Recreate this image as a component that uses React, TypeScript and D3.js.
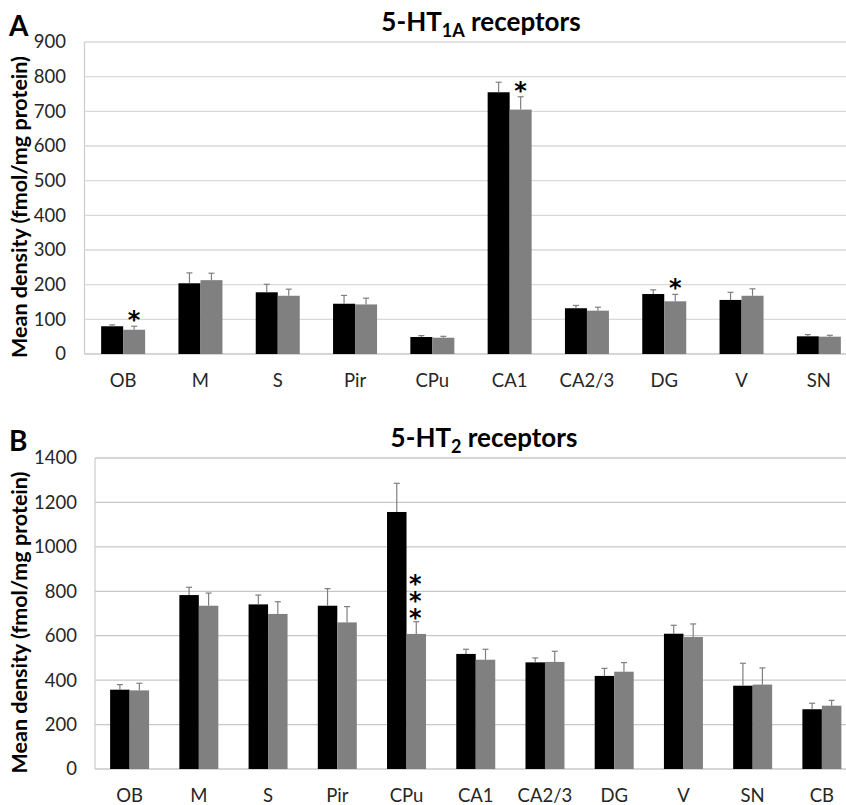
import React from "react";
import * as d3 from "d3";

const regionsA = ["OB", "M", "S", "Pir", "CPu", "CA1", "CA2/3", "DG", "V", "SN"];
const controlA = [80, 204, 178, 145, 49, 755, 132, 173, 156, 51];
const controlErrA = [4, 30, 23, 24, 4, 29, 8, 12, 22, 5];
const treatedA = [70, 213, 168, 143, 47, 705, 125, 152, 168, 50];
const treatedErrA = [10, 20, 19, 18, 4, 37, 10, 20, 20, 4];
const starsA = [1, 0, 0, 0, 0, 1, 0, 1, 0, 0];
const ticksA = [0, 100, 200, 300, 400, 500, 600, 700, 800, 900];

const regionsB = ["OB", "M", "S", "Pir", "CPu", "CA1", "CA2/3", "DG", "V", "SN", "CB"];
const controlB = [357, 783, 741, 735, 1157, 518, 480, 419, 609, 375, 269];
const controlErrB = [23, 35, 42, 77, 129, 21, 20, 34, 38, 101, 27];
const treatedB = [354, 735, 698, 660, 608, 492, 482, 438, 594, 380, 285];
const treatedErrB = [32, 57, 55, 71, 55, 47, 48, 41, 59, 75, 24];
const starsB = [0, 0, 0, 0, 3, 0, 0, 0, 0, 0, 0];
const ticksB = [0, 200, 400, 600, 800, 1000, 1200, 1400];

const FONT = "Lato, 'Open Sans', sans-serif";

type PanelProps = {
  letter: string;
  titleMain: string;
  titleSub: string;
  regions: string[];
  control: number[];
  controlErr: number[];
  treated: number[];
  treatedErr: number[];
  stars: number[];
  ticks: number[];
  max: number;
  top: number;
  bottom: number;
  left: number;
  right: number;
  barFrac: number;
  gridColor: string;
  letterY: number;
  titleY: number;
  titleX: number;
  labelY: number;
  tickX: number;
};

function Panel(p: PanelProps) {
  const y = d3.scaleLinear().domain([0, p.max]).range([p.bottom, p.top]);
  const x = d3.scaleBand().domain(p.regions).range([p.left, p.right]).paddingInner(0).paddingOuter(0);
  const bw = x.bandwidth() * p.barFrac / 2;
  const cap = 3;
  return (
    <g>
      {p.ticks.map((t) => (
        <g key={t}>
          <line x1={p.left} x2={p.right} y1={y(t)} y2={y(t)} stroke={t === 0 ? "#c8c8c8" : p.gridColor} strokeWidth={1.3} />
          <text x={p.tickX} y={y(t)} dy="0.35em" textAnchor="end" fontSize={18.5} fill="#262626" fontFamily={FONT}>{t}</text>
        </g>
      ))}
      <line x1={p.left} x2={p.left} y1={p.top} y2={p.bottom} stroke="#d0d0d0" strokeWidth={1.3} />
      {p.regions.map((r, i) => {
        const cx = (x(r) as number) + x.bandwidth() / 2;
        const yc = y(p.control[i]);
        const yt = y(p.treated[i]);
        const yce = y(p.control[i] + p.controlErr[i]);
        const yte = y(p.treated[i] + p.treatedErr[i]);
        const starTop = Math.min(yte, yt);
        const n = p.stars[i];
        return (
          <g key={r}>
            <rect x={cx - bw} y={yc} width={bw} height={p.bottom - yc} fill="#000" />
            <rect x={cx} y={yt} width={bw} height={p.bottom - yt} fill="#808080" />
            <line x1={cx - bw / 2} x2={cx - bw / 2} y1={yc} y2={yce} stroke="#7f7f7f" strokeWidth={1.2} />
            <line x1={cx - bw / 2 - cap} x2={cx - bw / 2 + cap} y1={yce} y2={yce} stroke="#7f7f7f" strokeWidth={1.2} />
            <line x1={cx + bw / 2} x2={cx + bw / 2} y1={yt} y2={yte} stroke="#7f7f7f" strokeWidth={1.2} />
            <line x1={cx + bw / 2 - cap} x2={cx + bw / 2 + cap} y1={yte} y2={yte} stroke="#7f7f7f" strokeWidth={1.2} />
            {n === 1 && (
              <text
                x={cx + bw / 2}
                y={starTop + 2}
                textAnchor="middle"
                fontSize={24}
                fontWeight="bold"
                fontFamily="'DejaVu Sans', sans-serif"
                fill="#000"
              >
                *
              </text>
            )}
            {n > 1 && (
              <text
                x={cx + bw / 2 - 1}
                y={starTop - n * 13 - 13}
                fontSize={24}
                fontWeight="bold"
                fontFamily="'DejaVu Sans', sans-serif"
                fill="#000"
                style={{ writingMode: "vertical-rl", textOrientation: "upright", letterSpacing: "-11px" } as any}
              >
                {"*".repeat(n)}
              </text>
            )}
            <text x={cx} y={p.labelY} textAnchor="middle" fontSize={18.5} fill="#262626" fontFamily={FONT}>{r}</text>
          </g>
        );
      })}
      <text x={9} y={p.letterY} fontSize={28} fontWeight="bold" fontFamily={FONT} fill="#000">{p.letter}</text>
      <text x={p.titleX} y={p.titleY} textAnchor="middle" fontSize={26} fontWeight="bold" fontFamily={FONT} fill="#000">
        {p.titleMain}
        <tspan fontSize={18} dy={6}>{p.titleSub}</tspan>
        <tspan dy={-6}> receptors</tspan>
      </text>
      <text
        transform={`translate(27,${(p.top + p.bottom) / 2 + 9}) rotate(-90)`}
        textAnchor="middle"
        fontSize={21.5}
        fontWeight="bold"
        fontFamily={FONT}
        fill="#000"
      >
        Mean density (fmol/mg protein)
      </text>
    </g>
  );
}

export default function App() {
  return (
    <svg width={846} height={805} style={{ display: "block", position: "absolute", left: 0, top: 0, background: "#fff" }}>
      <rect width={846} height={805} fill="#fff" />
      <Panel
        letter="A"
        titleMain="5-HT"
        titleSub="1A"
        regions={regionsA}
        control={controlA}
        controlErr={controlErrA}
        treated={treatedA}
        treatedErr={treatedErrA}
        stars={starsA}
        ticks={ticksA}
        max={900}
        top={42}
        bottom={354}
        left={84.5}
        right={857.5}
        barFrac={44 / 77.3}
        gridColor="#d9d9d9"
        letterY={36}
        titleY={31}
        titleX={481}
        labelY={387}
        tickX={66}
      />
      <Panel
        letter="B"
        titleMain="5-HT"
        titleSub="2"
        regions={regionsB}
        control={controlB}
        controlErr={controlErrB}
        treated={treatedB}
        treatedErr={treatedErrB}
        stars={starsB}
        ticks={ticksB}
        max={1400}
        top={458}
        bottom={769}
        left={95}
        right={856.5}
        barFrac={39 / 69.25}
        gridColor="#c8c8c8"
        letterY={451}
        titleY={447}
        titleX={484}
        labelY={802}
        tickX={77}
      />
    </svg>
  );
}
